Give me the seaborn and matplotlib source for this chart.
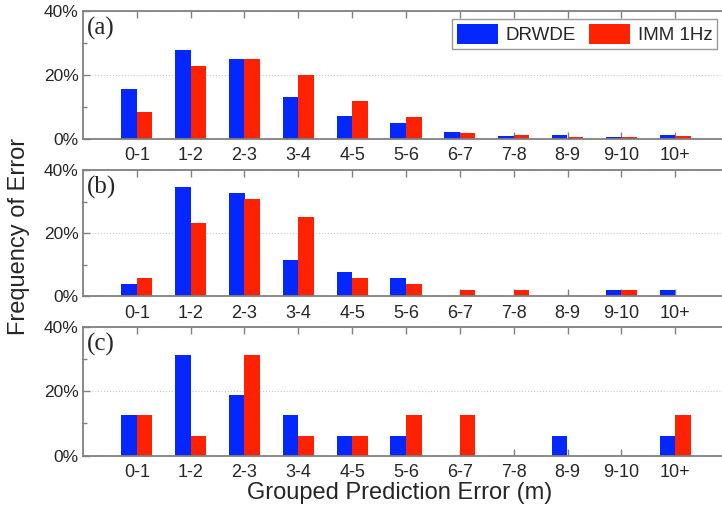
import numpy as np
import pandas as pd
import seaborn as sns
import matplotlib.pyplot as plt
from matplotlib.ticker import PercentFormatter, MultipleLocator

# data (percent)
groups = ["0-1", "1-2", "2-3", "3-4", "4-5", "5-6", "6-7", "7-8", "8-9", "9-10", "10+"]
methods = ["DRWDE", "IMM 1Hz"]

a_drwde = [15.5, 27.7, 25.1, 13.1, 7.2, 4.9, 2.2, 1.0, 1.1, 0.6, 1.25]
a_imm = [8.5, 22.7, 24.9, 19.9, 12.0, 7.0, 1.8, 1.1, 0.5, 0.6, 0.8]

b_drwde = [3.85, 34.6, 32.7, 11.5, 7.7, 5.77, 0, 0, 0, 1.92, 1.92]
b_imm = [5.77, 23.1, 30.8, 25.0, 5.77, 3.85, 1.92, 1.92, 0, 1.92, 0]

c_drwde = [12.5, 31.25, 18.75, 12.5, 6.25, 6.25, 0, 0, 6.25, 0, 6.25]
c_imm = [12.5, 6.25, 31.25, 6.25, 6.25, 12.5, 12.5, 0, 0, 0, 12.5]

panels = [("(a)", a_drwde, a_imm), ("(b)", b_drwde, b_imm), ("(c)", c_drwde, c_imm)]
colors = {"DRWDE": "#0527FF", "IMM 1Hz": "#FF2200"}

sns.set_style("white")
plt.rcParams["font.family"] = ["Liberation Sans", "DejaVu Sans"]

fig = plt.figure(figsize=(7.22, 5.16), dpi=100)

# axes boxes in pixels: (top, bottom)
boxes = [(11, 139), (170, 296.3), (326.7, 455.7)]
W, H = 722, 516
left_px, right_px = 83, 729

for i, ((lab, d1, d2), (top, bot)) in enumerate(zip(panels, boxes)):
    ax = fig.add_axes([left_px / W, 1 - bot / H, (right_px - left_px) / W, (bot - top) / H])
    df = pd.DataFrame({
        "group": groups * 2,
        "freq": d1 + d2,
        "method": [methods[0]] * len(groups) + [methods[1]] * len(groups),
    })
    sns.barplot(data=df, x="group", y="freq", hue="method", palette=colors,
                width=0.58, saturation=1, ax=ax, legend=(i == 0), linewidth=0)
    ax.set_xlim(-1, 11)
    ax.set_ylim(0, 40)
    ax.yaxis.set_major_locator(MultipleLocator(20))
    ax.yaxis.set_minor_locator(MultipleLocator(10))
    ax.yaxis.set_major_formatter(PercentFormatter(decimals=0))
    ax.set_xlabel("")
    ax.set_ylabel("")
    ax.grid(axis="y", which="major", linestyle=":", color="#c8c8c8", linewidth=0.8)
    ax.set_axisbelow(True)
    for s in ["left", "bottom", "top"]:
        ax.spines[s].set_color("#808080")
        ax.spines[s].set_linewidth(1.3)
    ax.spines["right"].set_visible(False)
    ax.tick_params(axis="both", which="both", direction="in", color="#808080",
                   top=True, bottom=True, left=True, width=1)
    ax.tick_params(axis="x", length=5, pad=6, labelsize=13)
    ax.tick_params(axis="y", which="major", length=5, pad=3, labelsize=12.5)
    ax.tick_params(axis="y", which="minor", length=3)
    ax.text(0.006, 0.95, lab, transform=ax.transAxes, ha="left", va="top",
            fontsize=18, family=["Liberation Serif", "DejaVu Serif"])
    if i == 0:
        h, l = ax.get_legend_handles_labels()
        ax.legend(h, l, loc="upper right", bbox_to_anchor=(717 / W, 1 - 19 / H),
                  bbox_transform=fig.transFigure, borderaxespad=0, frameon=True,
                  fancybox=False, edgecolor="#808080", fontsize=13.5, ncol=2,
                  handlelength=2.2, handleheight=1.3, columnspacing=0.7,
                  handletextpad=0.4, borderpad=0.25)

fig.text(400 / W, 1 - 493 / H, "Grouped Prediction Error (m)", ha="center", va="center", fontsize=17)
fig.text(19 / W, 1 - 236 / H, "Frequency of Error", ha="center", va="center", rotation=90, fontsize=17)

fig.savefig("out.png", dpi=100)
